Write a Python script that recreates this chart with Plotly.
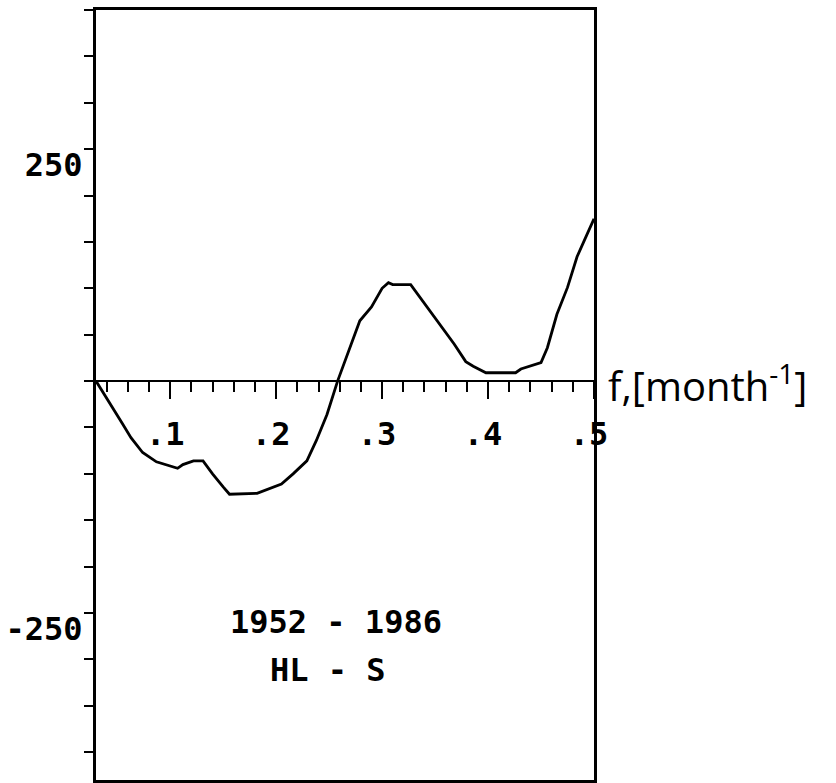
import plotly.graph_objects as go

# Frequency (month^-1) and spectral value
freq = [0.030, 0.036, 0.046, 0.055, 0.063, 0.074, 0.087, 0.103, 0.107, 0.112,
        0.122, 0.131, 0.140, 0.150, 0.156, 0.182, 0.197, 0.205, 0.216, 0.229,
        0.238, 0.248, 0.258, 0.270, 0.279, 0.290, 0.300, 0.306, 0.310, 0.327,
        0.339, 0.355, 0.368, 0.379, 0.386, 0.398, 0.426, 0.431, 0.450, 0.456,
        0.465, 0.475, 0.484, 0.491, 0.500]
value = [0, -11, -28, -46, -61, -77, -87, -93, -94, -90,
         -86, -86, -100, -114, -122, -121, -114, -111, -100, -86,
         -64, -36, 0, 38, 65, 80, 100, 106, 104, 104,
         85, 60, 40, 21, 16, 9, 9, 13, 20, 36,
         72, 101, 134, 152, 175]

x_tick_vals = [0.1, 0.2, 0.3, 0.4, 0.5]
x_tick_text = [".1", ".2", ".3", ".4", ".5"]
y_tick_vals = list(range(-400, 401, 50))
y_labelled = {250: "250", -250: "-250"}
y_tick_text = [y_labelled.get(v, " ") for v in y_tick_vals]
note_lines = ["1952 - 1986", "HL - S"]
x_title = "f,[month<sup>-1</sup>]"

X_MIN, X_MAX = 0.03, 0.5
Y_MIN, Y_MAX = -430, 400

MONO = "DejaVu Sans Mono"

fig = go.Figure()
fig.add_trace(go.Scatter(x=freq, y=value, mode="lines",
                         line=dict(color="black", width=2.8), showlegend=False))

fig.update_layout(
    width=836, height=783,
    margin=dict(l=96, r=242, t=10, b=3),
    paper_bgcolor="white", plot_bgcolor="white",
    xaxis=dict(range=[X_MIN, X_MAX], showgrid=False, zeroline=False,
               showline=True, mirror=True, linecolor="black", linewidth=3,
               ticks="", showticklabels=False, automargin=False),
    xaxis2=dict(range=[X_MIN, X_MAX], overlaying="x", anchor="free",
                position=(0 - Y_MIN) / (Y_MAX - Y_MIN), side="bottom",
                showgrid=False, zeroline=False, automargin=False,
                showline=True, linecolor="black", linewidth=2,
                tickmode="array", tickvals=x_tick_vals, ticktext=x_tick_text,
                ticks="outside", ticklen=17, tickwidth=2, tickcolor="black",
                minor=dict(dtick=0.02, tick0=0, ticks="outside", ticklen=10,
                           tickwidth=2, tickcolor="black"),
                tickfont=dict(family=MONO, size=32, color="black", weight=700),
                ticklabelstandoff=8, ticklabelshift=-5),
    yaxis=dict(range=[Y_MIN, Y_MAX], showgrid=False, zeroline=False,
               showline=True, mirror=True, linecolor="black", linewidth=3,
               automargin=False,
               tickmode="array", tickvals=y_tick_vals, ticktext=y_tick_text,
               ticks="outside", ticklen=9, tickwidth=2, tickcolor="black",
               tickfont=dict(family=MONO, size=32, color="black", weight=700),
               ticklabelshift=16, ticklabelstandoff=-5),
)

# dummy trace to activate xaxis2
fig.add_trace(go.Scatter(x=[X_MIN, X_MAX], y=[None, None], xaxis="x2",
                         mode="lines", showlegend=False, hoverinfo="skip"))

fig.add_annotation(x=0.2566, y=-260, text=note_lines[0], showarrow=False,
                   font=dict(family=MONO, size=32, color="black", weight=700))
fig.add_annotation(x=0.2485, y=-311, text=note_lines[1], showarrow=False,
                   font=dict(family=MONO, size=32, color="black", weight=700))
fig.add_annotation(x=X_MAX, y=0, text=x_title, showarrow=False,
                   xanchor="left", yanchor="middle", xshift=12, yshift=-2,
                   font=dict(family="Open Sans", size=40, color="black"))

fig.write_html("out.html")
